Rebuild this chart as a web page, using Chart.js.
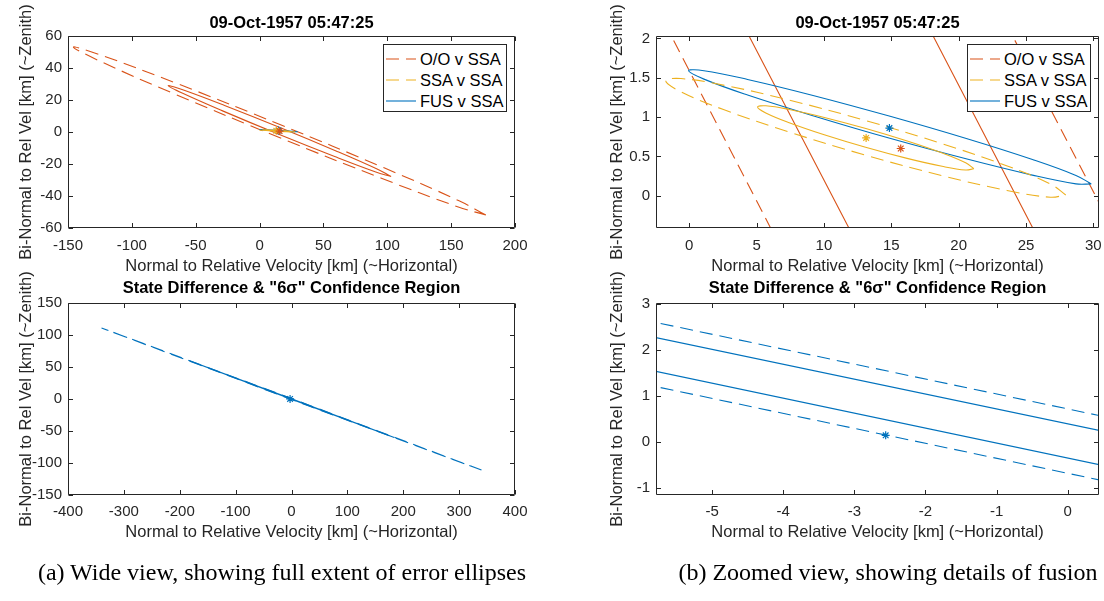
<!DOCTYPE html>
<html>
<head>
<meta charset="utf-8">
<title>Error ellipses</title>
<script src="https://cdn.jsdelivr.net/npm/chart.js@4.4.0/dist/chart.umd.min.js"></script>
<style>
  html, body { margin: 0; padding: 0; background: #fff; }
  #wrap { position: relative; width: 1104px; height: 601px; overflow: hidden; font-family: "Liberation Sans", Arial, sans-serif; }
  #wrap canvas { position: absolute; left: 0; top: 0; }
  .legend { position: absolute; width: 124px; height: 68px; box-sizing: border-box; background: #fff; border: 1px solid #262626; z-index: 5; }
  .legend svg, .legend span { position: absolute; }
  .legend span { font-size: 16.5px; line-height: 20px; color: #000; white-space: nowrap; }
  .caption { position: absolute; top: 558px; transform: translateX(-50%); font-family: "Liberation Serif", "Times New Roman", serif; font-size: 24px; line-height: 28px; color: #000; white-space: nowrap; }
</style>
</head>
<body>
<div id="wrap"></div>
<script>
// ---- data (km) ----

// wide view: O/O v SSA ellipses (outer dashed, inner solid)
const ooOuter = [[177.2,-51.9],[156.2,-43.0],[97.5,-22.4],[16.9,4.35],[-64.0,30.1],[-123.6,47.9],[-145.8,53.1],
  [-124.8,44.2],[-66.1,23.6],[14.5,-3.15],[95.4,-28.9],[155.0,-46.7],[177.2,-51.9]];
const ooInner = [[103.0,-27.8],[91.6,-23.0],[59.9,-11.85],[16.4,2.63],[-27.4,16.55],[-59.6,26.2],[-71.6,29.0],
  [-60.2,24.2],[-28.5,13.05],[15.0,-1.43],[58.8,-15.35],[91.0,-25.0],[103.0,-27.8]];

// SSA v SSA ellipses
const ssaOuter = [[27.95,0.010],[26.82,0.149],[23.61,0.378],[18.79,0.660],[13.11,0.955],[7.43,1.215],[2.61,1.403],
  [-0.62,1.489],[-1.75,1.460],[-0.62,1.321],[2.59,1.092],[7.41,0.810],[13.09,0.516],[18.77,0.255],[23.59,0.067],
  [26.81,-0.019],[27.95,0.010]];
const ssaInner = [[21.13,0.343],[20.52,0.418],[18.78,0.542],[16.18,0.695],[13.11,0.854],[10.03,0.995],[7.43,1.096],
  [5.68,1.143],[5.07,1.127],[5.68,1.052],[7.42,0.928],[10.02,0.775],[13.09,0.616],[16.17,0.475],[18.77,0.374],
  [20.52,0.327],[21.13,0.343]];

// FUS v SSA ellipse
const fusEllipse = [[29.85,0.150],[28.71,0.258],[25.48,0.460],[20.63,0.724],[14.91,1.010],[9.19,1.275],[4.33,1.478],
  [1.09,1.589],[-0.05,1.590],[1.09,1.482],[4.33,1.280],[9.18,1.017],[14.89,0.730],[20.62,0.466],[25.47,0.262],
  [28.71,0.151],[29.85,0.150]];

// zoomed view: the O/O ellipse edges that cross the window
const ooOuterEdges = [[-1.84,2.2],[6.61,-0.6],[null,null],[23.49,2.2],[31.98,-0.6]];
const ooInnerEdges = [[3.92,2.2],[12.43,-0.6],[null,null],[17.59,2.2],[26.08,-0.6]];

// centres (asterisks)
const ooCentre = [[15.7,0.6]];
const ssaCentre = [[13.13,0.735]];
const fusCentre = [[14.86,0.86]];

// state difference & "6 sigma" region
const diffOuter = [[340,-111],[0.21,0.63],[-340,111],[-0.21,-0.63],[340,-111]];
const diffInner = [[183.8,-60],[0.11,0.34],[-183.8,60],[-0.11,-0.34],[183.8,-60]];
const diffOuterEdges = [[-6,2.664],[0.6,0.519],[null,null],[-6,1.268],[0.6,-0.883]];
const diffInnerEdges = [[-6,2.334],[0.6,0.196],[null,null],[-6,1.60],[0.6,-0.551]];
const diffPoint = [[-2.56,0.14]];

// axes
const wideX = [-150,-100,-50,0,50,100,150,200];
const wideY = [-60,-40,-20,0,20,40,60];
const zoomX = [0,5,10,15,20,25,30];
const zoomY = [0,0.5,1,1.5,2];
const diffWideX = [-400,-300,-200,-100,0,100,200,300,400];
const diffWideY = [-150,-100,-50,0,50,100,150];
const diffZoomX = [-5,-4,-3,-2,-1,0];
const diffZoomY = [-1,0,1,2,3];

const legendNames = ['O/O v SSA', 'SSA v SSA', 'FUS v SSA'];
const stamp = '09-Oct-1957 05:47:25';
const diffTitle = 'State Difference & "6σ" Confidence Region';
const xLabel = 'Normal to Relative Velocity [km] (~Horizontal)';
const yLabel = 'Bi-Normal to Rel Vel [km] (~Zenith)';

// ---- style ----
const W = 1104, H = 601;
const FONT = '"Liberation Sans", Arial, Helvetica, sans-serif';
const INK = '#262626';
const RED = '#D95319', YEL = '#EDB120', BLU = '#0072BD';
const DASH = [13, 7];
const legendColors = [RED, YEL, BLU];
const legendDash = [DASH, DASH, []];
const TICK_PX = 15, LABEL_PX = 16.5;
const tickHalf = TICK_PX * 1.2 / 2, labelHalf = LABEL_PX * 1.2 / 2;

const wrap = document.getElementById('wrap');

// box outline with inward ticks on all four sides (MATLAB look)
const boxTicks = {
  id: 'boxTicks',
  afterDraw(chart) {
    const { ctx, chartArea: a, scales } = chart;
    const L = Math.round(a.left) + 0.5, R = Math.round(a.right) - 0.5;
    const T = Math.round(a.top) + 0.5, B = Math.round(a.bottom) - 0.5;
    const tl = 4.5;
    ctx.save();
    ctx.strokeStyle = INK;
    ctx.lineWidth = 1;
    ctx.beginPath();
    scales.x.ticks.forEach(t => {
      const p = Math.round(scales.x.getPixelForValue(t.value)) + 0.5;
      ctx.moveTo(p, B); ctx.lineTo(p, B - tl);
      ctx.moveTo(p, T); ctx.lineTo(p, T + tl);
    });
    scales.y.ticks.forEach(t => {
      const p = Math.round(scales.y.getPixelForValue(t.value)) + 0.5;
      ctx.moveTo(L, p); ctx.lineTo(L + tl, p);
      ctx.moveTo(R, p); ctx.lineTo(R - tl, p);
    });
    ctx.rect(L, T, R - L, B - T);
    ctx.stroke();
    ctx.restore();
  }
};

function curve(data, color, dash, tension) {
  return { data, showLine: true, borderColor: color, borderWidth: 1.1, borderDash: dash,
    pointRadius: 0, tension: tension, spanGaps: false, fill: false };
}
function star(data, color) {
  return { data, showLine: false, pointStyle: 'star', pointRadius: 4, borderColor: color,
    pointBorderColor: color, pointBorderWidth: 1.2, backgroundColor: color };
}

// every panel gets its own full-size canvas; padding puts the plot box where it belongs
function panel(box, title, xr, yr, xt, yt, datasets) {
  const cv = document.createElement('canvas');
  cv.width = W; cv.height = H;
  wrap.appendChild(cv);
  const tickFont = { family: FONT, size: TICK_PX, lineHeight: 1.2 };
  const labelFont = { family: FONT, size: LABEL_PX, lineHeight: 1.2 };
  const padTop = box.titleY - labelHalf;
  const padLeft = box.yTitleX - labelHalf;
  const xHeight = box.xTitleY + labelHalf - box.bottom;
  return new Chart(cv, {
    type: 'scatter',
    data: { datasets },
    options: {
      responsive: false,
      animation: false,
      devicePixelRatio: 1,
      events: [],
      layout: {
        autoPadding: false,
        padding: { left: padLeft, top: padTop, right: W - box.right, bottom: H - box.bottom - xHeight }
      },
      plugins: {
        legend: { display: false },
        tooltip: { enabled: false },
        title: {
          display: true, text: title, fullSize: false, color: '#000',
          font: { family: FONT, size: LABEL_PX, weight: 'bold', lineHeight: 1.2 },
          padding: { top: 0, bottom: box.top - padTop - 2 * labelHalf }
        }
      },
      scales: {
        x: {
          type: 'linear', min: xr[0], max: xr[1],
          afterBuildTicks: s => { s.ticks = xt.map(v => ({ value: v })); },
          afterFit: s => { s.height = xHeight; s.paddingLeft = 0; s.paddingRight = 0; },
          grid: { display: false, drawTicks: false },
          border: { display: false },
          ticks: { autoSkip: false, maxRotation: 0, padding: box.xTickY - tickHalf - box.bottom, color: INK,
            font: tickFont, callback: v => String(v) },
          title: { display: true, text: xLabel, color: INK, font: labelFont, padding: { top: 0, bottom: 0 } }
        },
        y: {
          type: 'linear', min: yr[0], max: yr[1],
          afterBuildTicks: s => { s.ticks = yt.map(v => ({ value: v })); },
          afterFit: s => { s.width = box.left - padLeft; s.paddingTop = 0; s.paddingBottom = 0; },
          grid: { display: false, drawTicks: false },
          border: { display: false },
          ticks: { autoSkip: false, padding: 6, color: INK, font: tickFont, callback: v => String(v) },
          title: { display: true, text: yLabel, color: INK, font: labelFont, padding: { top: 0, bottom: 0 } }
        }
      }
    },
    plugins: [boxTicks]
  });
}

function legend(left, top) {
  const div = document.createElement('div');
  div.className = 'legend';
  div.style.left = left + 'px';
  div.style.top = top + 'px';
  legendNames.forEach((name, i) => {
    const cy = 13.5 + i * 21;
    div.insertAdjacentHTML('beforeend',
      `<svg width="30" height="6" style="left:2px;top:${cy - 3}px"><line x1="0" y1="3" x2="30" y2="3" ` +
      `stroke="${legendColors[i]}" stroke-width="1.1" stroke-dasharray="${legendDash[i].join(' ') || 'none'}"/></svg>` +
      `<span style="left:36px;top:${cy - 10}px">${name}</span>`);
  });
  wrap.appendChild(div);
}

const topBox = (l, r) => ({ left: l, right: r, top: 36, bottom: 228, titleY: 23.5, xTickY: 245.5, xTitleY: 266.5 });
const botBox = (l, r) => ({ left: l, right: r, top: 303, bottom: 495, titleY: 288.5, xTickY: 512, xTitleY: 532.5 });

// first dataset is drawn on top
// (a) wide view
panel({ ...topBox(68, 515), yTitleX: 26 }, stamp, [-150, 200], [-60, 60], wideX, wideY, [
  star(ooCentre, RED), star(ssaCentre, YEL), star(fusCentre, BLU),
  curve(ssaInner, YEL, [], 0.4), curve(ssaOuter, YEL, DASH, 0.4),
  curve(fusEllipse, BLU, [], 0.4),
  curve(ooInner, RED, [], 0.4), curve(ooOuter, RED, DASH, 0.4)
]);
panel({ ...botBox(68, 515), yTitleX: 26 }, diffTitle, [-400, 400], [-150, 150], diffWideX, diffWideY, [
  star(diffPoint, BLU),
  curve(diffInner, BLU, [], 0), curve(diffOuter, BLU, DASH, 0)
]);

// (b) zoomed view
panel({ ...topBox(656, 1099), yTitleX: 617 }, stamp, [-2.47, 30.42], [-0.41, 2.03], zoomX, zoomY, [
  star(ooCentre, RED), star(ssaCentre, YEL), star(fusCentre, BLU),
  curve(ssaInner, YEL, [], 0.4), curve(ssaOuter, YEL, DASH, 0.4),
  curve(fusEllipse, BLU, [], 0.4),
  curve(ooInnerEdges, RED, [], 0), curve(ooOuterEdges, RED, DASH, 0)
]);
panel({ ...botBox(656, 1099), yTitleX: 617 }, diffTitle, [-5.79, 0.44], [-1.16, 3.02], diffZoomX, diffZoomY, [
  star(diffPoint, BLU),
  curve(diffInnerEdges, BLU, [], 0), curve(diffOuterEdges, BLU, DASH, 0)
]);

legend(383, 44);
legend(967, 44);

wrap.insertAdjacentHTML('beforeend',
  '<div class="caption" style="left:282px">(a) Wide view, showing full extent of error ellipses</div>' +
  '<div class="caption" style="left:888px">(b) Zoomed view, showing details of fusion</div>');
</script>
</body>
</html>
